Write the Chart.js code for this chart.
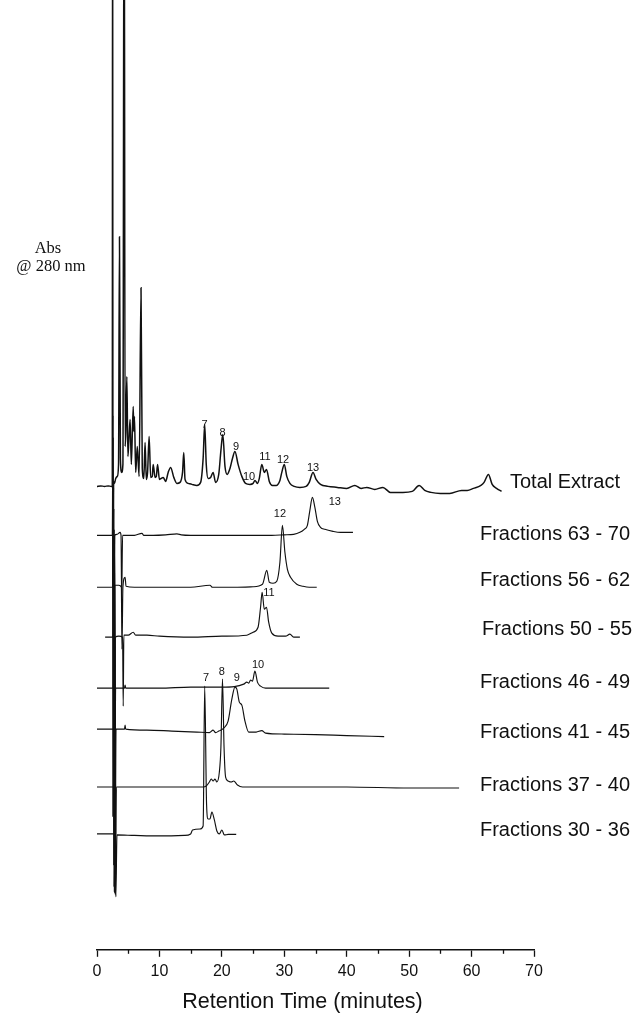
<!DOCTYPE html>
<html><head><meta charset="utf-8">
<script src="https://cdn.jsdelivr.net/npm/chart.js@4.4.1/dist/chart.umd.min.js"></script>
<style>html,body{margin:0;padding:0;background:#fff;}canvas{display:block;}</style>
</head><body>
<canvas id="c" width="636" height="1013"></canvas>
<script>
// ---------- DATA (retention time in minutes, absorbance in arbitrary units) ----------
const xTicks = [0, 10, 20, 30, 40, 50, 60, 70];
const traceNames = ['Total Extract', 'Fractions 63 - 70', 'Fractions 56 - 62', 'Fractions 50 - 55',
  'Fractions 46 - 49', 'Fractions 41 - 45', 'Fractions 37 - 40', 'Fractions 30 - 36'];
// vertical stacking offset of each trace (same absorbance units)
const traceOffsets = [464, 415, 363, 313, 262, 221, 163, 116];

const totalExtract = [[0,0],[0.6,0.5],[1.2,0],[1.8,0.5],[2.3,0],[2.45,0],[2.5,700],[2.57,-330],[2.66,5],[2.8,3],[3.0,8],[3.25,10],[3.45,22],[3.6,250],[3.75,28],[3.95,14],[4.15,22],[4.35,700],[4.5,40],[4.62,55],[4.78,110],[4.95,30],[5.1,45],[5.3,67],[5.5,22],[5.8,80],[5.9,55],[6.0,70],[6.2,14],[6.45,40],[6.75,10],[7.05,199],[7.25,18],[7.5,8],[7.7,44],[7.9,7],[8.1,14],[8.35,50],[8.6,9],[8.85,10],[9.0,22],[9.3,9],[9.5,10],[9.7,22],[10.0,7],[10.6,9],[11.0,5],[11.4,14],[11.8,19],[12.3,9],[12.8,3],[13.3,4],[13.7,14],[13.9,34],[14.1,7],[14.6,3],[15.2,2],[16.0,1],[16.6,4],[17.0,28],[17.25,62],[17.5,22],[17.8,8],[18.2,9],[18.6,14],[19.0,4],[19.5,12],[19.85,36],[20.15,52],[20.5,20],[20.85,12],[21.3,18],[21.7,28],[22.1,35],[22.6,22],[23.2,10],[23.8,3],[24.5,2],[25.0,3],[25.3,6],[25.7,3],[26.0,8],[26.4,22],[26.8,14],[27.15,17],[27.6,5],[28.1,1],[28.7,1],[29.3,6],[29.6,14],[30.0,22],[30.4,10],[30.9,3],[31.6,0],[32.5,-1],[33.5,0],[34.0,4],[34.6,14],[35.1,7],[35.8,2],[37,0],[38.5,-1],[40,-2],[41.3,1],[42.3,-2],[43.2,-1],[44.5,-3],[45.8,-1],[47,-6],[49,-6],[50.5,-5],[51.6,1],[52.5,-4],[53.5,-6],[55,-7],[56.5,-7],[58.4,-4],[59.3,-4],[60.3,-2],[61.5,1],[62.0,4],[62.7,12],[63.3,2],[64.0,-2],[64.8,-5]];
const frac63_70 = [[0,0],[1,0],[2,0],[2.45,0],[2.55,120],[2.68,-330],[2.8,0],[3.2,1],[3.7,3],[3.85,0],[3.95,-64],[4.1,0],[5,0],[6,0],[7.2,2],[7.5,0],[9,0],[11,0.5],[12.8,1.5],[13.5,0.5],[15,0],[20,0],[25,0],[28,0],[30,0.5],[31.5,1],[32.5,3],[33.2,6],[33.7,10],[34.1,25],[34.5,38],[34.9,28],[35.3,14],[35.8,8],[36.5,6],[37.8,4],[39,3],[41,3]];
const frac56_62 = [[0,0],[2.5,0],[2.6,150],[2.72,-300],[2.85,2],[3.5,2],[3.9,0],[4.0,-62],[4.15,0],[4.5,10],[4.65,1],[6,0],[10,0],[15,0],[18.1,2],[18.5,0],[22,0],[25,0.5],[26.5,3],[27.2,17],[27.6,5],[28.2,4],[28.8,6],[29.3,25],[29.7,62],[30.1,35],[30.5,18],[31,10],[32,3],[33,1],[34,0],[35.2,0]];
const frac50_55 = [[1.3,0],[2.0,0],[2.55,0],[2.65,150],[2.78,-255],[2.92,0],[3.5,1],[4.1,0],[4.2,-69],[4.3,2],[5.0,2],[5.8,5],[6.2,2],[8,2],[10,1],[15,0],[20,1],[24,2],[25,5],[25.8,10],[26.2,30],[26.45,45],[26.8,28],[27.15,30],[27.5,15],[28.0,4],[29.0,1],[30.2,1],[30.9,3],[31.5,0],[32.5,0]];
const frac46_49 = [[0,0],[2.6,0],[2.7,180],[2.84,-205],[2.98,0],[4.4,0],[4.5,3],[4.6,0],[10,0],[15,1],[20,1],[22,1.5],[23.5,4],[24.0,6],[24.3,5],[24.6,8],[24.9,7],[25.3,17],[25.7,6],[26.2,2],[27,0],[30,0],[33,0],[37.2,0]];
const frac41_45 = [[0,0],[2.65,0],[2.75,200],[2.9,-165],[3.05,0],[4.4,0],[4.5,4],[4.6,0],[8,-1],[12,-2],[16,-3],[18.0,-3.5],[18.6,-1],[19.0,-3.5],[19.5,-2],[20.3,1],[21.0,8],[21.6,30],[22.1,42],[22.4,40],[22.8,27],[23.2,24],[23.7,8],[24.3,-3],[25.5,-3],[26.4,-1.5],[27,-4],[30,-5],[35,-5.5],[40,-6.5],[46,-7.5]];
const frac37_40 = [[0,0],[2.7,0],[2.8,250],[2.95,-108],[3.1,0],[5,0],[10,0],[15,0],[17.0,0],[17.5,1],[18.0,5],[18.3,8],[18.6,6],[18.9,8],[19.2,5],[19.6,15],[19.85,40],[20.1,108],[20.35,40],[20.6,10],[21.0,6],[21.5,5],[21.9,6],[22.5,2],[23.3,0],[30,0],[40,0],[50,-1],[58,-1]];
const frac30_36 = [[0,0],[2.75,0],[2.85,300],[3.02,-63],[3.2,-1],[6,-1.5],[10,-2],[14,-1.5],[15.0,0],[15.3,4],[16.5,5],[17.0,8],[17.25,148],[17.55,30],[17.8,15],[18.1,15],[18.4,22],[18.8,14],[19.2,3],[19.6,0],[20.0,4],[20.4,-1],[21,-0.5],[22.3,-0.5]];
const traces = [totalExtract, frac63_70, frac56_62, frac50_55, frac46_49, frac41_45, frac37_40, frac30_36];

// peak numbers: [trace index, label, time, absorbance above trace offset]
const peakLabels = [
  [0,'7',17.22,61],[0,'8',20.1,53],[0,'9',22.27,39],[0,'10',24.35,9],[0,'11',26.9,29],[0,'12',29.8,26],[0,'13',34.6,18],
  [1,'13',38.1,33],[2,'12',29.3,73],[3,'11',27.55,44],[4,'10',25.8,23],
  [6,'8',20.0,115],[5,'9',22.4,51],[7,'7',17.46,156]
];

// ---------- CHART ----------
const SANS = '"Liberation Sans", Arial, Helvetica, sans-serif';
const SERIF = '"Liberation Serif", "Times New Roman", serif';

const datasets = traces.map((tr, i) => ({
  label: traceNames[i],
  data: tr.map(([t, a]) => ({x: t, y: traceOffsets[i] + a})),
  borderColor: '#111',
  borderWidth: i === 0 ? 1.5 : 1.15,
  pointRadius: 0,
  cubicInterpolationMode: 'monotone',
  fill: false
}));

const annotate = {
  id: 'annotate',
  afterDatasetsDraw(chart) {
    const {ctx, chartArea, scales: {x, y}} = chart;
    ctx.save();
    ctx.fillStyle = '#111';
    // peak numbers
    ctx.font = '11px ' + SANS;
    ctx.textAlign = 'center';
    ctx.textBaseline = 'middle';
    peakLabels.forEach(([ti, txt, t, a]) => {
      ctx.fillText(txt, x.getPixelForValue(t), y.getPixelForValue(traceOffsets[ti] + a));
    });
    // trace names
    const dy = [4, 1, 7, 8, 6, -3, 2, 3];
    const rx = [620, 630, 630, 632, 630, 630, 630, 630];
    ctx.font = '20px ' + SANS;
    ctx.textAlign = 'right';
    traceNames.forEach((n, i) => {
      ctx.fillText(n, rx[i], y.getPixelForValue(traceOffsets[i] + dy[i]));
    });
    // y label
    ctx.font = '16.5px ' + SERIF;
    ctx.textAlign = 'center';
    ctx.fillText('Abs', 48, 249);
    ctx.fillText('@ 280 nm', 51, 267);
    // minor ticks
    ctx.strokeStyle = '#111';
    ctx.lineWidth = 1.3;
    for (let v = 5; v < 70; v += 10) {
      const px = Math.round(x.getPixelForValue(v)) + 0.5;
      ctx.beginPath();
      ctx.moveTo(px, chartArea.bottom);
      ctx.lineTo(px, chartArea.bottom + 4);
      ctx.stroke();
    }
    // axis title
    ctx.font = '21.5px ' + SANS;
    ctx.textAlign = 'center';
    ctx.fillText('Retention Time (minutes)', (chartArea.left + chartArea.right) / 2 - 13, 1002);
    ctx.restore();
  }
};

new Chart(document.getElementById('c'), {
  type: 'line',
  data: {datasets},
  options: {
    responsive: false,
    animation: false,
    devicePixelRatio: 1,
    layout: {padding: {left: 97, right: 102, top: 0, bottom: 27}},
    plugins: {legend: {display: false}, tooltip: {enabled: false}, title: {display: false}},
    scales: {
      x: {
        type: 'linear', min: 0, max: 70,
        afterBuildTicks: s => { s.ticks = xTicks.map(v => ({value: v})); },
        ticks: {font: {family: SANS, size: 16}, color: '#111', padding: 5, maxRotation: 0, autoSkip: false},
        grid: {drawOnChartArea: false, drawTicks: true, tickLength: 7, tickColor: '#111', tickWidth: 1.3},
        border: {display: true, color: '#111', width: 1.5}
      },
      y: {display: false, min: 0, max: 951}
    }
  },
  plugins: [annotate]
});
</script>
</body></html>
